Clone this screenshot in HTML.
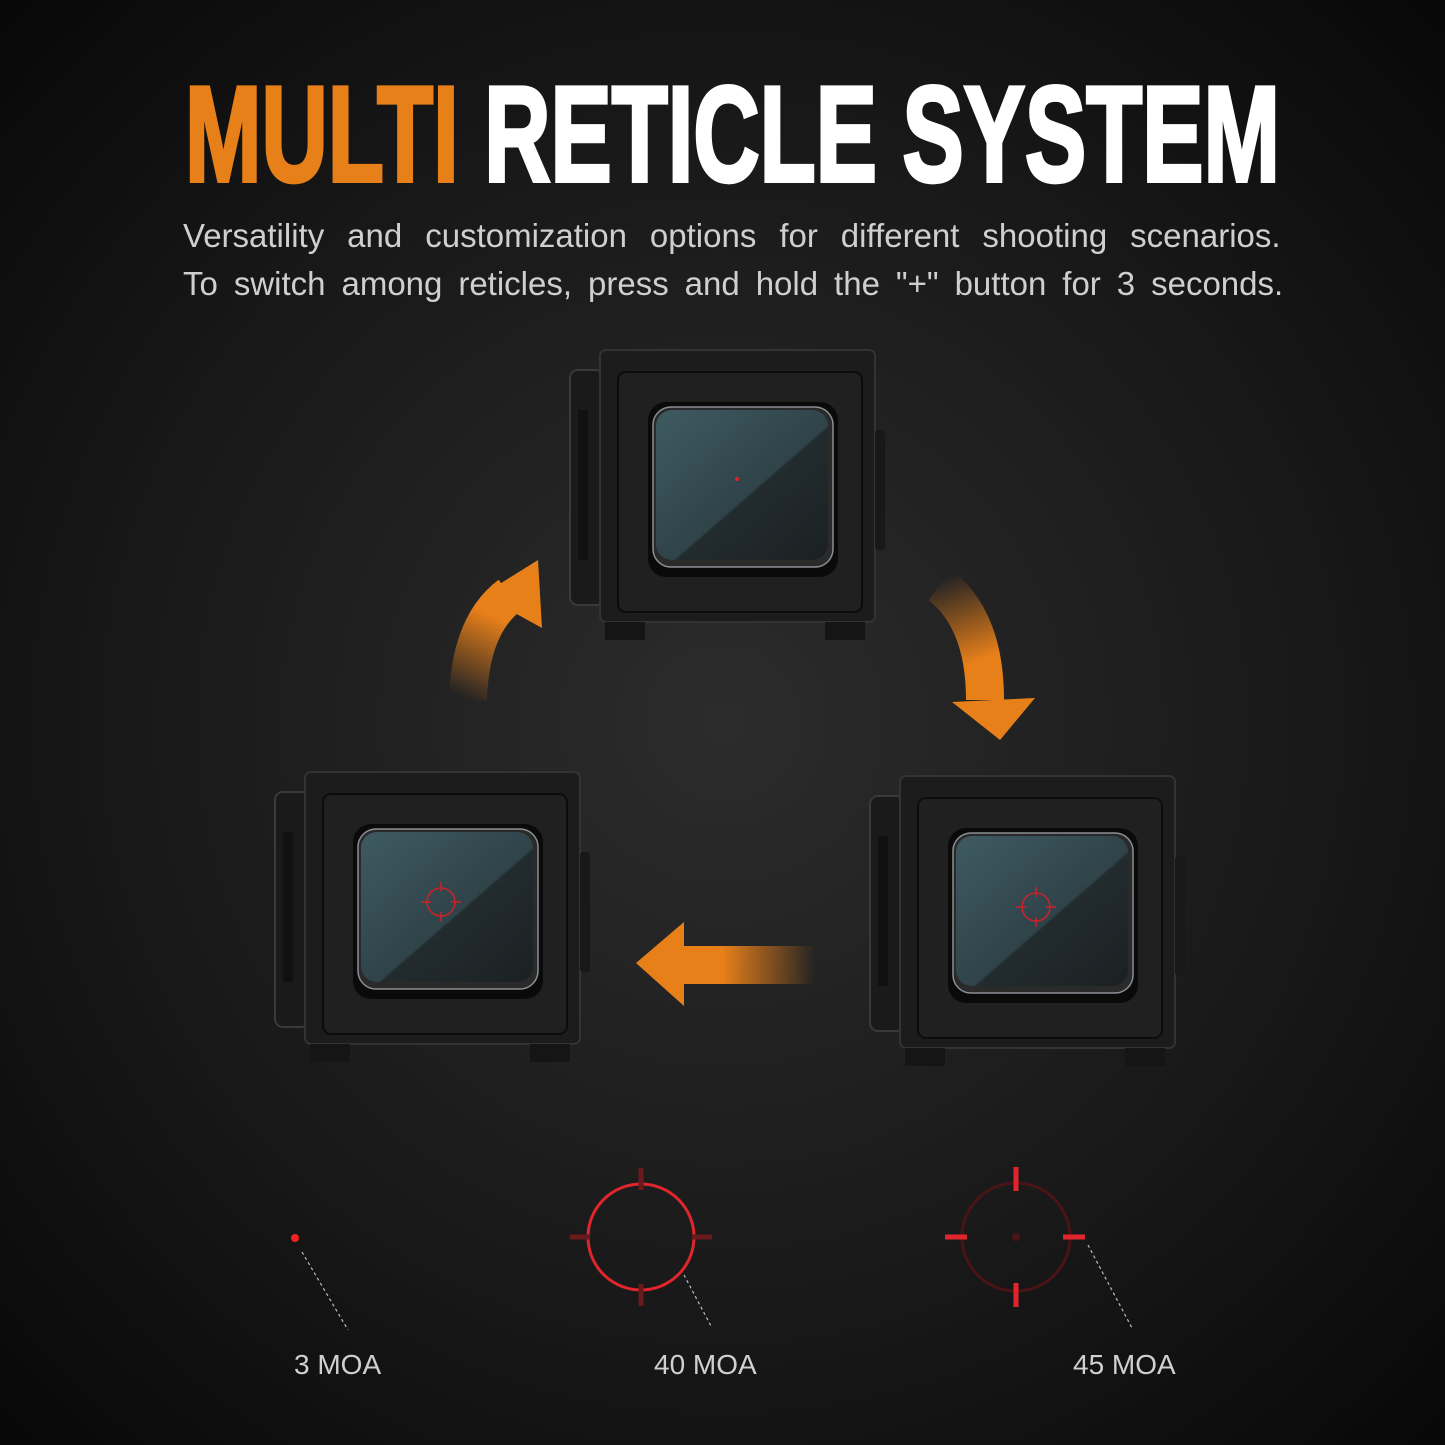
<!DOCTYPE html>
<html><head><meta charset="utf-8"><style>
html,body{margin:0;padding:0;background:#0d0d0d;}
svg{display:block}
</style></head><body>
<svg width="1445" height="1445" viewBox="0 0 1445 1445" xmlns="http://www.w3.org/2000/svg">
<defs>
<radialGradient id="bg" cx="0.5" cy="0.5" r="0.7">
<stop offset="0" stop-color="#2c2c2c"/><stop offset="0.6" stop-color="#181818"/><stop offset="1" stop-color="#080808"/>
</radialGradient>
<linearGradient id="glass" x1="0" y1="0" x2="1" y2="1">
<stop offset="0" stop-color="#3f5a62"/><stop offset="0.55" stop-color="#2f4349"/><stop offset="0.56" stop-color="#222b2e"/><stop offset="1" stop-color="#1b2123"/>
</linearGradient>
<linearGradient id="a1" x1="470" y1="700" x2="530" y2="570" gradientUnits="userSpaceOnUse"><stop offset="0" stop-color="#e8801a" stop-opacity="0"/><stop offset="0.6" stop-color="#e8801a"/></linearGradient>
<linearGradient id="a2" x1="940" y1="580" x2="990" y2="720" gradientUnits="userSpaceOnUse"><stop offset="0" stop-color="#e8801a" stop-opacity="0"/><stop offset="0.6" stop-color="#e8801a"/></linearGradient>
<linearGradient id="a3" x1="815" y1="965" x2="660" y2="965" gradientUnits="userSpaceOnUse"><stop offset="0" stop-color="#e8801a" stop-opacity="0"/><stop offset="0.6" stop-color="#e8801a"/></linearGradient>
<g id="sight">
<rect x="-30" y="20" width="34" height="235" rx="8" fill="#1a1a1a" stroke="#3a3a3a" stroke-width="2"/>
<rect x="-22" y="60" width="10" height="150" fill="#111"/>
<rect x="0" y="0" width="275" height="272" rx="6" fill="#1c1c1c" stroke="#333" stroke-width="2"/>
<rect x="18" y="22" width="244" height="240" rx="8" fill="#202020" stroke="#0c0c0c" stroke-width="2"/>
<rect x="48" y="52" width="190" height="175" rx="18" fill="#0a0a0a"/>
<rect x="53" y="57" width="180" height="160" rx="18" fill="#2a2a2a" stroke="#8a9094" stroke-width="1.5"/>
<rect x="56" y="60" width="172" height="150" rx="16" fill="url(#glass)"/>
<rect x="5" y="272" width="40" height="18" fill="#151515"/>
<rect x="225" y="272" width="40" height="18" fill="#151515"/>
<rect x="275" y="80" width="10" height="120" rx="3" fill="#181818"/>
</g>
</defs>
<rect width="1445" height="1445" fill="url(#bg)"/>

<text x="185" y="181" font-family="Liberation Sans Narrow, Liberation Sans, sans-serif" font-weight="bold" font-size="136" textLength="1095" lengthAdjust="spacingAndGlyphs" stroke-width="4" stroke-linejoin="miter"><tspan fill="#e8801a" stroke="#e8801a">MULTI</tspan><tspan fill="#ffffff" stroke="#ffffff"> RETICLE SYSTEM</tspan></text>
<text x="183" y="247" font-family="Liberation Sans, sans-serif" font-size="33" fill="#cfcfcf" word-spacing="13.8">Versatility and customization options for different shooting scenarios.</text>
<text x="183" y="295" font-family="Liberation Sans, sans-serif" font-size="33" fill="#cfcfcf" word-spacing="6.8">To switch among reticles, press and hold the "+" button for 3 seconds.</text>

<use href="#sight" transform="translate(600,350)"/>
<use href="#sight" transform="translate(305,772)"/>
<use href="#sight" transform="translate(900,776)"/>
<circle cx="737" cy="479" r="2" fill="#d22"/>
<g stroke="#c8222a" stroke-width="1.6" fill="none">
<circle cx="441" cy="902" r="14"/><path d="M441 882v10M441 912v10M421 902h10M451 902h10"/>
<circle cx="1036" cy="907" r="14"/><path d="M1036 887v10M1036 917v10M1016 907h10M1046 907h10"/>
</g>

<path d="M468 700 Q470 625 510 595" stroke="url(#a1)" stroke-width="38" fill="none"/>
<polygon points="538,560 542,628 482,595" fill="#e8801a"/>
<path d="M940 585 Q985 620 985 700" stroke="url(#a2)" stroke-width="38" fill="none"/>
<polygon points="952,702 1035,698 1000,740" fill="#e8801a"/>
<path d="M815 965 Q760 965 680 965" stroke="url(#a3)" stroke-width="38" fill="none"/>
<polygon points="684,922 684,1006 636,963" fill="#e8801a"/>

<circle cx="295" cy="1238" r="4" fill="#e22"/>
<line x1="302" y1="1252" x2="348" y2="1330" stroke="#bbb" stroke-width="1.2" stroke-dasharray="3,3"/>
<g fill="none" stroke-linecap="butt">
<circle cx="641" cy="1237" r="53" stroke="#e0262c" stroke-width="3"/>
<path d="M641 1168v22M641 1284v22M570 1237h20M692 1237h20" stroke="#6a1a1c" stroke-width="5"/>
<circle cx="1016" cy="1237" r="54" stroke="#4a1416" stroke-width="3"/>
<path d="M1016 1167v24M1016 1283v24M945 1237h22M1063 1237h22" stroke="#e0262c" stroke-width="5"/>
</g>
<circle cx="1016" cy="1237" r="4" fill="#4a1416"/>
<line x1="684" y1="1275" x2="711" y2="1326" stroke="#bbb" stroke-width="1.2" stroke-dasharray="3,3"/>
<line x1="1088" y1="1245" x2="1132" y2="1328" stroke="#bbb" stroke-width="1.2" stroke-dasharray="3,3"/>
<g font-family="Liberation Sans, sans-serif" font-size="28" fill="#d0d0d0">
<text x="294" y="1374">3 MOA</text>
<text x="654" y="1374">40 MOA</text>
<text x="1073" y="1374">45 MOA</text>
</g>
</svg>
</body></html>
